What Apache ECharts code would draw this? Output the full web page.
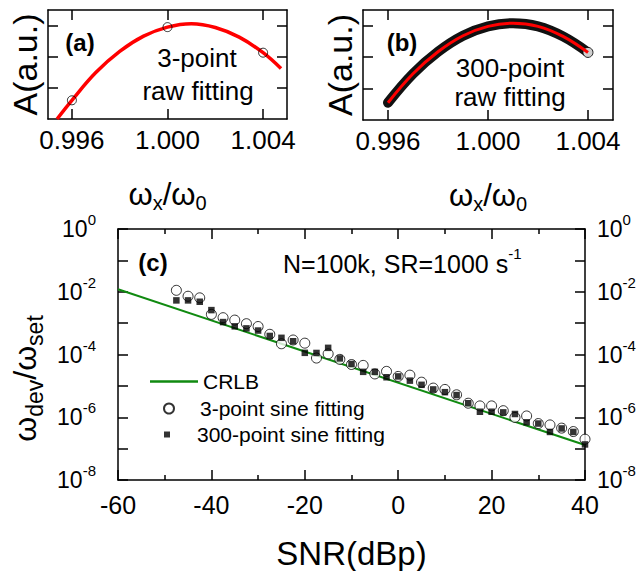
<!DOCTYPE html>
<html>
<head>
<meta charset="utf-8">
<script src="https://cdn.jsdelivr.net/npm/echarts@6/dist/echarts.min.js"></script>
<style>
  html, body { margin: 0; padding: 0; background: #fff; }
  #main { width: 641px; height: 571px; }
</style>
</head>
<body>
<div id="main"></div>
<script>
// panel (a): 3 raw points and the fitted curve
var fitAX = [0.99538, 0.996, 0.997, 0.998, 0.999, 1.000, 1.001, 1.002, 1.003, 1.004, 1.00475]
var fitAY = [0.0, 0.6, 1.49, 2.17, 2.66, 2.95, 3.06, 2.94, 2.63, 2.13, 1.62]
var rawAX = [0.996, 1.000, 1.004]
var rawAY = [0.6, 2.95, 2.13]

// panel (b): 300 raw points (dense band) and the fitted curve
var fitBX = [0.996, 0.997, 0.998, 0.999, 1.000, 1.001, 1.002, 1.003, 1.004]
var fitBY = [0.55, 1.47, 2.17, 2.68, 2.98, 3.08, 2.98, 2.66, 2.15]
var endBX = [1.004]
var endBY = [2.15]
var omegaTicks = [0.996, 1.000, 1.004]
var ampTicks = [1, 2, 3]

// panel (c)
var snr = [-47.5, -45, -42.5, -40, -37.5, -35, -32.5, -30, -27.5, -25, -22.5, -20,
  -17.5, -15, -12.5, -10, -7.5, -5, -2.5, 0, 2.5, 5, 7.5, 10,
  12.5, 15, 17.5, 20, 22.5, 25, 27.5, 30, 32.5, 35, 37.5, 40]
var sine3 = [1.11e-2, 7.2e-3, 6.4e-3, 1.9e-3, 1.49e-3, 1.25e-3, 9.6e-4, 7.8e-4, 4.4e-4, 2.2e-4, 2.9e-4, 2.3e-4,
  7.7e-5, 1.05e-4, 7.0e-5, 4.8e-5, 4.5e-5, 2.4e-5, 2.9e-5, 2.0e-5, 2.2e-5, 1.31e-5, 8.5e-6, 7.7e-6,
  5.2e-6, 2.8e-6, 2.3e-6, 2.3e-6, 1.62e-6, 9.9e-7, 1.1e-6, 6.3e-7, 5.7e-7, 4.5e-7, 3.5e-7, 2.0e-7]
var sine300 = [5.3e-3, 5.3e-3, 4.8e-3, 2.6e-3, 1.08e-3, 7.9e-4, 6.8e-4, 5.8e-4, 3.9e-4, 3.4e-4, 2.65e-4, 1.13e-4,
  1.12e-4, 1.63e-4, 7.5e-5, 5.0e-5, 2.8e-5, 2.8e-5, 1.88e-5, 2.0e-5, 1.47e-5, 1.08e-5, 7.7e-6, 6.3e-6,
  5.1e-6, 2.8e-6, 1.5e-6, 1.5e-6, 1.43e-6, 1.27e-6, 6.9e-7, 6.3e-7, 3.4e-7, 4.4e-7, 3.4e-7, 1.36e-7]
var crlbSnr = [-60, 40]
var crlbVal = [1.2e-2, 1.3e-7]

var FONT = 'Liberation Sans, Arial, sans-serif'
var BLACK = '#000'
var GREEN = '#108a10'

function pairs (xs, ys) {
  return xs.map(function (x, i) { return [x, ys[i]] })
}

var lineStyle = { color: BLACK, width: 1.5 }

function omegaAxis (grid, pos, showLabel) {
  return {
    type: 'value', gridIndex: grid, position: pos, min: 0.995, max: 1.005,
    axisLine: { onZero: false, lineStyle: lineStyle },
    axisTick: { inside: true, length: 10, lineStyle: lineStyle, customValues: omegaTicks },
    axisLabel: {
      show: showLabel, customValues: omegaTicks, margin: 8,
      fontSize: 26, fontFamily: FONT, color: BLACK,
      formatter: function (v) { return v.toFixed(3) }
    },
    splitLine: { show: false },
    name: showLabel ? '{w|ω}{s|x}{w|/ω}{s|0}' : '',
    nameLocation: 'middle', nameGap: 56,
    nameTextStyle: {
      rich: {
        w: { fontSize: 31, fontFamily: FONT, color: BLACK, lineHeight: 34 },
        s: { fontSize: 20, fontFamily: FONT, color: BLACK, verticalAlign: 'bottom', padding: [18, 0, 0, 0] }
      }
    }
  }
}

function ampAxis (grid, pos, showName) {
  return {
    type: 'value', gridIndex: grid, position: pos, min: 0, max: 3.5,
    axisLine: { onZero: false, lineStyle: lineStyle },
    axisTick: { inside: true, length: 10, lineStyle: lineStyle, customValues: ampTicks },
    axisLabel: { show: false },
    splitLine: { show: false },
    name: showName ? 'A(a.u.)' : '',
    nameLocation: 'middle', nameGap: 6,
    nameTextStyle: { fontSize: 34, fontFamily: FONT, color: BLACK }
  }
}

function snrAxis (pos, showLabel) {
  return {
    type: 'value', gridIndex: 2, position: pos, min: -60, max: 40, interval: 20,
    axisLine: { onZero: false, lineStyle: lineStyle },
    axisTick: { inside: true, length: 10, lineStyle: lineStyle },
    minorTick: { show: true, splitNumber: 2, length: 5, lineStyle: lineStyle },
    axisLabel: { show: showLabel, margin: 12, fontSize: 25, fontFamily: FONT, color: BLACK },
    splitLine: { show: false },
    name: showLabel ? 'SNR(dBp)' : '',
    nameLocation: 'middle', nameGap: 57,
    nameTextStyle: { fontSize: 33, fontFamily: FONT, color: BLACK }
  }
}

function devAxis (pos, showName) {
  return {
    type: 'log', logBase: 10, gridIndex: 2, position: pos, min: 1e-8, max: 1, splitNumber: 8,
    axisLine: { onZero: false, lineStyle: lineStyle },
    axisTick: { inside: true, length: 10, lineStyle: lineStyle },
    axisLabel: {
      margin: pos === 'left' ? 22 : 12, showMinLabel: true, showMaxLabel: true,
      formatter: function (v) {
        var e = Math.round(Math.log10(v))
        return e % 2 === 0 ? '{m|10}{s|' + e + '}' : ''
      },
      rich: {
        m: { fontSize: 23, fontFamily: FONT, color: BLACK, lineHeight: 34 },
        s: { fontSize: 15, fontFamily: FONT, color: BLACK, verticalAlign: 'top' }
      }
    },
    splitLine: { show: false },
    name: showName ? '{w|ω}{d|dev}{w|/ω}{d|set}' : '',
    nameLocation: 'middle', nameGap: 72,
    nameTextStyle: {
      padding: [0, 48, 0, 0],
      rich: {
        w: { fontSize: 32, fontFamily: FONT, color: BLACK, lineHeight: 34 },
        d: { fontSize: 23, fontFamily: FONT, color: BLACK, verticalAlign: 'bottom', padding: [20, 0, 0, 0] }
      }
    }
  }
}

function label (text, x, y, size, bold, align) {
  return {
    type: 'text', x: x, y: y,
    style: {
      text: text, fill: BLACK, fontSize: size, fontFamily: FONT, fontWeight: bold ? 'bold' : 'normal',
      align: align || 'center', verticalAlign: 'middle',
      textAlign: align || 'center', textVerticalAlign: 'middle'
    }
  }
}

var legendText = { fontSize: 21, fontFamily: FONT, color: BLACK }

var chart = echarts.init(document.getElementById('main'), null, { renderer: 'svg' })
chart.setOption({
  animation: false,
  backgroundColor: '#fff',
  grid: [
    { left: 48, top: 10, width: 239, height: 109 },
    { left: 363, top: 10, width: 250, height: 110 },
    { left: 118, top: 229, width: 467, height: 253 }
  ],
  xAxis: [
    omegaAxis(0, 'bottom', true), omegaAxis(0, 'top', false),
    omegaAxis(1, 'bottom', true), omegaAxis(1, 'top', false),
    snrAxis('bottom', true), snrAxis('top', false)
  ],
  yAxis: [
    ampAxis(0, 'left', true), ampAxis(0, 'right', false),
    ampAxis(1, 'left', true), ampAxis(1, 'right', false),
    devAxis('left', true), devAxis('right', false)
  ],
  legend: [
    {
      data: [{ name: 'CRLB', icon: 'rect', itemStyle: { color: GREEN } }],
      left: 145, top: 366, selectedMode: false,
      itemWidth: 48, itemHeight: 2.5, textStyle: legendText
    },
    {
      data: [{ name: '3-point sine fitting', icon: 'circle' }],
      left: 158, top: 393, selectedMode: false,
      itemWidth: 10, itemHeight: 10,
      textStyle: { fontSize: 21, fontFamily: FONT, color: BLACK, padding: [0, 0, 0, 21] }
    },
    {
      data: [{ name: '300-point sine fitting', icon: 'rect' }],
      left: 159, top: 419, selectedMode: false,
      itemWidth: 6, itemHeight: 6,
      textStyle: { fontSize: 21, fontFamily: FONT, color: BLACK, padding: [0, 0, 0, 22] }
    }
  ],
  graphic: [
    label('(a)', 80, 42, 24, true),
    label('3-point', 197, 58, 26),
    label('raw fitting', 198, 91, 26),
    label('(b)', 402, 42, 24, true),
    label('300-point', 510, 68, 26),
    label('raw fitting', 510, 97, 26),
    label('(c)', 153, 262, 24, true),
    {
      type: 'text', x: 283, y: 264,
      style: {
        text: '{n|N=100k, SR=1000 s}{s|-1}',
        align: 'left', verticalAlign: 'middle', textAlign: 'left', textVerticalAlign: 'middle',
        rich: {
          n: { fontSize: 25, fontFamily: FONT, fill: BLACK, color: BLACK, lineHeight: 36 },
          s: { fontSize: 15, fontFamily: FONT, fill: BLACK, color: BLACK, verticalAlign: 'top' }
        }
      }
    }
  ],
  series: [
    {
      type: 'line', xAxisIndex: 0, yAxisIndex: 0, data: pairs(fitAX, fitAY),
      smooth: 0.4, symbol: 'none', lineStyle: { color: '#ff0000', width: 3.5 }, z: 3
    },
    {
      type: 'scatter', xAxisIndex: 0, yAxisIndex: 0, data: pairs(rawAX, rawAY),
      symbol: 'circle', symbolSize: 9,
      itemStyle: { color: 'rgba(0,0,0,0)', borderColor: BLACK, borderWidth: 1 }, z: 4
    },
    {
      type: 'line', xAxisIndex: 2, yAxisIndex: 2, data: pairs(fitBX, fitBY),
      smooth: 0.4, symbol: 'none', lineStyle: { color: '#111', width: 10, cap: 'round' }, z: 2
    },
    {
      type: 'scatter', xAxisIndex: 2, yAxisIndex: 2, data: pairs(endBX, endBY),
      symbol: 'circle', symbolSize: 10,
      itemStyle: { color: '#fff', borderColor: BLACK, borderWidth: 1 }, z: 3
    },
    {
      type: 'line', xAxisIndex: 2, yAxisIndex: 2, data: pairs(fitBX, fitBY),
      smooth: 0.4, symbol: 'none', lineStyle: { color: '#ff0000', width: 3 }, z: 4
    },
    {
      name: 'CRLB', type: 'line', xAxisIndex: 4, yAxisIndex: 4, data: pairs(crlbSnr, crlbVal),
      symbol: 'none', lineStyle: { color: GREEN, width: 2 }, itemStyle: { color: GREEN }, z: 2
    },
    {
      name: '3-point sine fitting', type: 'scatter', xAxisIndex: 4, yAxisIndex: 4, data: pairs(snr, sine3),
      symbol: 'circle', symbolSize: 10,
      itemStyle: { color: '#fff', borderColor: BLACK, borderWidth: 1 }, z: 3
    },
    {
      name: '300-point sine fitting', type: 'scatter', xAxisIndex: 4, yAxisIndex: 4, data: pairs(snr, sine300),
      symbol: 'rect', symbolSize: 6.5,
      itemStyle: { color: BLACK }, z: 4
    }
  ]
})
</script>
</body>
</html>
